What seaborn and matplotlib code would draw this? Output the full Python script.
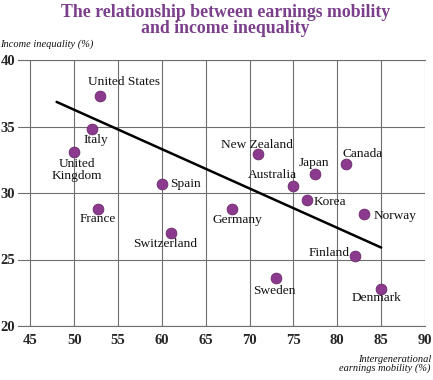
import numpy as np
import pandas as pd
import matplotlib
matplotlib.use('Agg')
import matplotlib.pyplot as plt
import seaborn as sns

countries = ['United States', 'Italy', 'United\nKingdom', 'Spain', 'France', 'Switzerland',
             'Germany', 'New Zealand', 'Australia', 'Japan', 'Canada', 'Korea',
             'Norway', 'Finland', 'Sweden', 'Denmark']
mobility = [53.0, 52.0, 50.0, 60.0, 52.7, 61.0, 68.0, 71.0, 75.0, 77.5, 81.0, 76.5,
            83.0, 82.0, 73.0, 85.0]
inequality = [37.3, 34.8, 33.1, 30.7, 28.8, 27.0, 28.8, 32.9, 30.5, 31.4, 32.2, 29.5,
              28.4, 25.3, 23.6, 22.8]

# fitted trend line end points
trend_x = [48.0, 85.0]
trend_y = [36.85, 25.9]

# label offsets (points) and alignment
label_dx = [17, 3, 2, 6, 0, -4, 4, -1, -15, -1, 12, 5, 7, -4, -1, -3]
label_dy = [10, -8, -13, 0, -7, -8, -8, 7, 8, 8, 7, -2, -1, 2, -9, -7]
label_ha = ['center', 'center', 'center', 'left', 'center', 'center', 'center', 'center',
            'center', 'center', 'center', 'left', 'left', 'right', 'center', 'center']

df = pd.DataFrame({'country': countries, 'mobility': mobility, 'inequality': inequality})

sns.set_style('white')
plt.rcParams['font.family'] = ['Liberation Serif', 'DejaVu Serif']

purple = '#8B3A8E'
grid_c = '#6e6e6e'

fig = plt.figure(figsize=(4.33, 3.8), dpi=100)
ax = fig.add_axes([18 / 433, 1 - 326 / 380, 407 / 433, 266 / 380])

sns.lineplot(x=trend_x, y=trend_y, ax=ax, color='black', linewidth=1.8, zorder=3)
sns.scatterplot(data=df, x='mobility', y='inequality', ax=ax, color=purple, s=60,
                edgecolor='#6a2a6c', linewidth=0.6, zorder=4)

for c, x, y, dx, dy, ha in zip(countries, mobility, inequality, label_dx, label_dy, label_ha):
    ax.annotate(c, (x, y), xytext=(dx, dy), textcoords='offset points', ha=ha,
                va='center', fontsize=9.6, color='#111111', linespacing=0.95, zorder=5)

ax.set_xlim(43.6, 90)
ax.set_ylim(20, 40)
ax.set_xticks(range(45, 91, 5))
ax.set_yticks(range(20, 41, 5))
ax.grid(True, color=grid_c, linewidth=0.8)
ax.set_axisbelow(True)
for s in ['left', 'right']:
    ax.spines[s].set_visible(False)
for s in ['top', 'bottom']:
    ax.spines[s].set_color(grid_c)
    ax.spines[s].set_linewidth(0.8)
ax.tick_params(axis='both', length=0, labelsize=10.5)
ax.tick_params(axis='x', pad=6)
ax.tick_params(axis='y', pad=2)
for t in ax.get_xticklabels() + ax.get_yticklabels():
    t.set_fontweight('bold')
ax.set_xlabel('')
ax.set_ylabel('')

fig.text(0.52, 0.99, 'The relationship between earnings mobility\nand income inequality',
         ha='center', va='top', fontsize=12.8, fontweight='bold', color='#7B3F8C',
         linespacing=0.95)
fig.text(0.0, 1 - 44 / 380, 'Income inequality (%)', ha='left', va='center',
         fontsize=7.5, style='italic', color='#111111')
fig.text(0.995, 1 - 364 / 380, 'Intergenerational\nearnings mobility (%)', ha='right',
         va='center', fontsize=7.5, style='italic', color='#111111', linespacing=1.05)

fig.savefig('out.png', dpi=100)
